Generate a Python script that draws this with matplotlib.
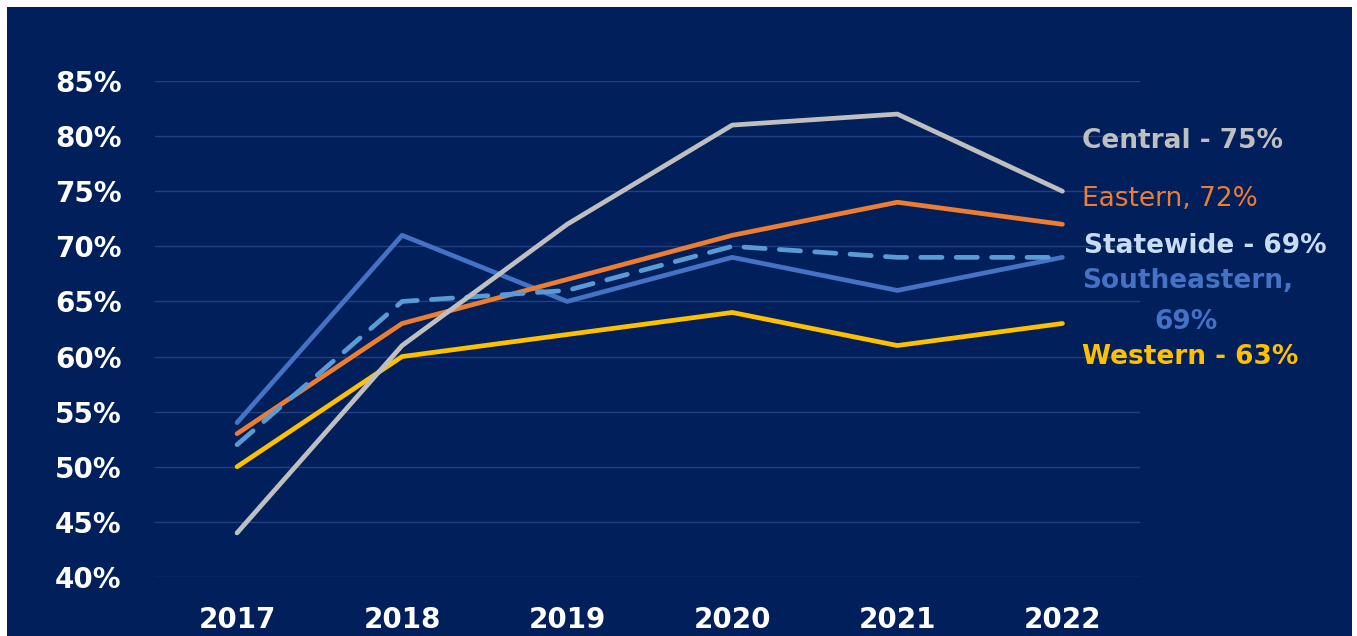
import matplotlib
matplotlib.use("Agg")
from matplotlib import pyplot as plt
from matplotlib.patches import Rectangle

years = ["2017", "2018", "2019", "2020", "2021", "2022"]
central = [44, 61, 72, 81, 82, 75]
eastern = [53, 63, 67, 71, 74, 72]
statewide = [52, 65, 66, 70, 69, 69]
southeastern = [54, 71, 65, 69, 66, 69]
western = [50, 60, 62, 64, 61, 63]
y_ticks = [40, 45, 50, 55, 60, 65, 70, 75, 80, 85]

NAVY = "#001f5b"
plt.rcParams["font.family"] = ["DejaVu Sans"]

fig = plt.figure(figsize=(13.57, 6.36), dpi=100)
fig.patch.set_facecolor("white")
# navy panel behind the chart
panel = Rectangle((7 / 1357, 0), (1352 - 7) / 1357, (636 - 7) / 636,
                  transform=fig.transFigure, facecolor=NAVY, edgecolor="none")
panel.set_zorder(-10)
fig.add_artist(panel)

ax = fig.add_axes([155 / 1357, 1 - 577 / 636, (1140 - 155) / 1357, (577 - 81) / 636])
ax.set_facecolor("none")
ax.set_zorder(1)
x = list(range(len(years)))

ax.plot(x, southeastern, color="#4472c4", lw=3.4, zorder=3, solid_capstyle="round")
ax.plot(x, western, color="#ffc000", lw=3.4, zorder=4, solid_capstyle="round")
ax.plot(x, eastern, color="#ed7d31", lw=3.4, zorder=5, solid_capstyle="round")
ax.plot(x, statewide, color="#5b9bd5", lw=3.4, ls=(0, (4.5, 3.0)), zorder=6,
        dash_capstyle="round")
ax.plot(x, central, color="#bfbfbf", lw=3.4, zorder=7, solid_capstyle="round")

ax.set_xlim(-0.497, 5.47)
ax.set_ylim(40, 85)
ax.set_yticks(y_ticks)
ax.set_yticklabels([f"{v}%" for v in y_ticks])
ax.set_xticks(x)
ax.set_xticklabels(years)
ax.grid(axis="y", color="#20407f", lw=1.0)
ax.set_axisbelow(True)
for s in ax.spines.values():
    s.set_visible(False)
ax.tick_params(axis="both", length=0, colors="white", labelsize=20)
ax.tick_params(axis="y", pad=24)
ax.tick_params(axis="x", pad=21)
for lab in ax.get_xticklabels() + ax.get_yticklabels():
    lab.set_fontweight("bold")

# end-of-line labels
lx = 5.12
fs = 19
ax.text(lx, 79.6, "Central - 75%", color="#bfbfbf", fontsize=fs, fontweight="bold",
        va="center", ha="left", clip_on=False)
ax.text(lx, 74.3, "Eastern, 72%", color="#ed7d31", fontsize=fs,
        va="center", ha="left", clip_on=False)
ax.text(lx + 0.01, 70.0, "Statewide - 69%", color="#c9ddf2", fontsize=fs, fontweight="bold",
        va="center", ha="left", clip_on=False)
ax.text(lx, 66.9, "Southeastern,", color="#4472c4", fontsize=fs, fontweight="bold",
        va="center", ha="left", clip_on=False)
ax.text(lx + 0.63, 63.1, "69%", color="#4472c4", fontsize=fs, fontweight="bold",
        va="center", ha="center", clip_on=False)
ax.text(lx, 60.0, "Western - 63%", color="#ffc000", fontsize=fs, fontweight="bold",
        va="center", ha="left", clip_on=False)

plt.savefig("out.png", dpi=100, facecolor=fig.get_facecolor())
plt.close()
